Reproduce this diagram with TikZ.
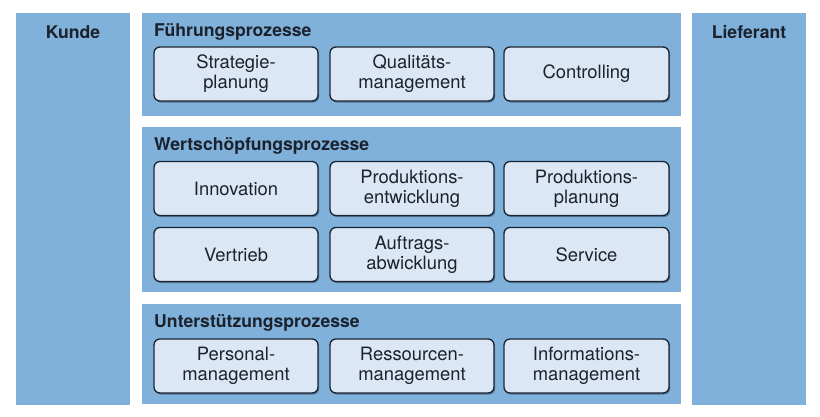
\documentclass[tikz,border=0pt]{standalone}
\usepackage{fontspec}
\setmainfont{TeX Gyre Heros}
\usetikzlibrary{shadows}
\definecolor{panelblue}{HTML}{7FB1DB}
\definecolor{boxfill}{HTML}{DCE7F5}
\definecolor{boxborder}{HTML}{1B2433}
\definecolor{txt}{HTML}{1C222C}
\begin{document}
\begin{tikzpicture}[x=1pt,y=-1pt,
  panel/.style={fill=panelblue, draw=none, inner sep=0pt},
  proc/.style={draw=boxborder, fill=boxfill, rounded corners=6pt, line width=1.3pt,
    minimum width=164pt, minimum height=54pt, align=center, inner sep=0pt,
    text=txt, font=\fontsize{18.4}{19.8}\selectfont,
    drop shadow={shadow xshift=1.2pt, shadow yshift=-1.5pt, opacity=0.35, fill=black}},
  ttl/.style={font=\bfseries\fontsize{17.6}{19}\selectfont, text=txt, inner sep=0pt}]
\useasboundingbox[fill=white] (0,0) rectangle (820,416);
% side panels
\path[panel] (16,13) rectangle (130,405) node[midway] (kunde) {};
\path[panel] (692,13) rectangle (806,405) node[midway] (lief) {};
\node[ttl] (tk) at (73,32) {Kunde};
\node[ttl] (tl) at (749,32) {Lieferant};
% middle panels
\path[panel] (142,13) rectangle (681,116) node[midway] (pf) {};
\path[panel] (142,127) rectangle (681,292) node[midway] (pw) {};
\path[panel] (142,304) rectangle (681,404) node[midway] (pu) {};
\node[ttl, anchor=west] (tf) at (154,32) {Führungsprozesse};
\node[ttl, anchor=west] (tw) at (154,146) {Wertschöpfungsprozesse};
\node[ttl, anchor=west] (tu) at (154,323) {Unterstützungsprozesse};
% boxes
\node[proc] (f1) at (236,74) {Strategie-\\planung};
\node[proc] (f2) at (412,74) {Qualitäts-\\management};
\node[proc, minimum width=165pt] (f3) at (586.5,74) {Controlling};
\node[proc] (w1) at (236,188.5) {Innovation};
\node[proc] (w2) at (412,188.5) {Produktions-\\entwicklung};
\node[proc, minimum width=165pt] (w3) at (586.5,188.5) {Produktions-\\planung};
\node[proc] (w4) at (236,254.5) {Vertrieb};
\node[proc] (w5) at (412,254.5) {Auftrags-\\abwicklung};
\node[proc, minimum width=165pt] (w6) at (586.5,254.5) {Service};
\node[proc] (u1) at (236,366) {Personal-\\management};
\node[proc] (u2) at (412,366) {Ressourcen-\\management};
\node[proc, minimum width=165pt] (u3) at (586.5,366) {Informations-\\management};
\end{tikzpicture}
\end{document}
